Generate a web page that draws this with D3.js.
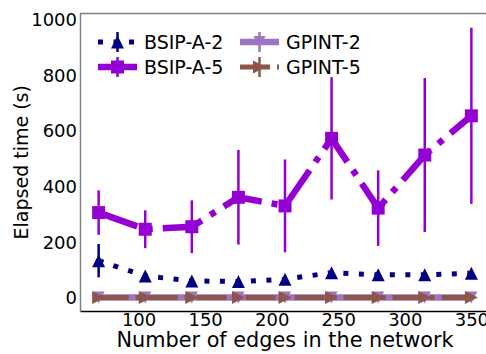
<!DOCTYPE html>
<html>
<head>
<meta charset="utf-8">
<script src="https://cdn.jsdelivr.net/npm/d3@7"></script>
<style>
  body { margin: 0; background: #fff; }
  svg text { font-family: "DejaVu Sans", Verdana, sans-serif !important; }
</style>
</head>
<body>
<div id="chart"></div>
<script>
// Number of edges (x values)
const edges = [70, 105, 140, 175, 210, 245, 280, 315, 350];

// Mean elapsed time and error per series
const bsipA2 = [134, 79, 61, 59, 67, 91, 83, 83, 89];
const bsipA2Err = [60, 10, 8, 8, 8, 10, 8, 8, 8];
const bsipA5 = [307, 247, 256, 362, 331, 574, 323, 514, 655];
const bsipA5Err = [80, 68, 95, 170, 167, 220, 136, 277, 317];
const gpint2 = [2, 2, 2, 2, 2, 2, 2, 2, 2];
const gpint2Err = [1, 1, 1, 1, 1, 1, 1, 1, 1];
const gpint5 = [2, 2, 2, 2, 2, 2, 2, 2, 2];
const gpint5Err = [1, 1, 1, 1, 1, 1, 1, 1, 1];

const xTicks = [100, 150, 200, 250, 300, 350];
const yTicks = [0, 200, 400, 600, 800, 1000];

const WIDTH = 486, HEIGHT = 354;
const plot = { left: 80, top: 13.5, right: 490, bottom: 311 };

const svg = d3.select("#chart").append("svg")
    .attr("width", WIDTH)
    .attr("height", HEIGHT);

const x = d3.scaleLinear().domain([56, 364]).range([plot.left, plot.right]);
const y = d3.scaleLinear().domain([-47, 1023]).range([plot.bottom, plot.top]);

// marker shapes (matplotlib-like)
const markers = {
  triUp: r => `M0,${-r}L${r},${r}L${-r},${r}Z`,
  triDown: r => `M0,${r}L${r},${-r}L${-r},${-r}Z`,
  triRight: r => `M${r},0L${-r},${r}L${-r},${-r}Z`,
  square: r => `M${-r},${-r}H${r}V${r}H${-r}Z`
};

const series = [
  { name: "BSIP-A-2", values: bsipA2, err: bsipA2Err, color: "#000080", width: 5, dash: "5,10.5", marker: "triUp", r: 6.5, errW: 2.5, opacity: 1 },
  { name: "BSIP-A-5", values: bsipA5, err: bsipA5Err, color: "#9400d3", width: 6.5, dash: "41,10,6,10", marker: "square", r: 6.5, errW: 2.5, opacity: 1 },
  { name: "GPINT-2", values: gpint2, err: gpint2Err, color: "#9467bd", width: 6.5, dash: null, marker: "triDown", r: 6, errW: 2.5, opacity: 0.9 },
  { name: "GPINT-5", values: gpint5, err: gpint5Err, color: "#8c564b", width: 5, dash: "30,7,5,7", marker: "triRight", r: 6.5, errW: 2.5, opacity: 1 }
];

const line = d3.line().x(d => x(d[0])).y(d => y(d[1]));

// Axes spines
const axisX = svg.append("g")
    .attr("transform", `translate(0,${plot.bottom})`)
    .call(d3.axisBottom(x).tickValues(xTicks).tickSize(0).tickPadding(2).tickFormat(d3.format("d")));
axisX.select(".domain").attr("stroke", "#000").attr("stroke-width", 1.5);
axisX.selectAll("text").attr("font-size", 18).attr("fill", "#000");

const axisY = svg.append("g")
    .attr("transform", `translate(${plot.left},0)`)
    .call(d3.axisLeft(y).tickValues(yTicks).tickSize(0).tickPadding(3).tickFormat(d3.format("d")));
axisY.select(".domain").attr("stroke", "#808080").attr("stroke-width", 1.5);
axisY.selectAll("text").attr("font-size", 18).attr("fill", "#000");

svg.append("line")
    .attr("x1", plot.left).attr("x2", plot.right)
    .attr("y1", plot.top).attr("y2", plot.top)
    .attr("stroke", "#808080").attr("stroke-width", 1.5);

// Series: line, error bars, markers
series.forEach(s => {
  const g = svg.append("g").attr("opacity", s.opacity);
  const pts = edges.map((e, i) => [e, s.values[i], s.err[i]]);
  g.append("path")
      .datum(pts)
      .attr("d", line)
      .attr("fill", "none")
      .attr("stroke", s.color)
      .attr("stroke-width", s.width)
      .attr("stroke-dasharray", s.dash);
  g.selectAll(".err").data(pts).enter().append("line")
      .attr("x1", d => x(d[0])).attr("x2", d => x(d[0]))
      .attr("y1", d => y(d[1] - d[2])).attr("y2", d => y(d[1] + d[2]))
      .attr("stroke", s.color).attr("stroke-width", s.errW);
  g.selectAll(".mk").data(pts).enter().append("path")
      .attr("transform", d => `translate(${x(d[0])},${y(d[1])})`)
      .attr("d", markers[s.marker](s.r))
      .attr("fill", s.color);
});

// Legend (two columns)
const legendPos = [
  { lx: 98, ly: 42 }, { lx: 98, ly: 67 },
  { lx: 240, ly: 42 }, { lx: 240, ly: 67 }
];
series.forEach((s, i) => {
  const p = legendPos[i];
  const g = svg.append("g").attr("transform", `translate(${p.lx},${p.ly})`).attr("opacity", s.opacity);
  g.append("line")
      .attr("x1", 0).attr("x2", 39).attr("y1", 0).attr("y2", 0)
      .attr("stroke", s.color).attr("stroke-width", s.width)
      .attr("stroke-dasharray", s.dash);
  g.append("line")
      .attr("x1", 19.5).attr("x2", 19.5).attr("y1", -10).attr("y2", 10)
      .attr("stroke", s.color).attr("stroke-width", s.errW);
  g.append("path")
      .attr("transform", "translate(19.5,0)")
      .attr("d", markers[s.marker](s.r))
      .attr("fill", s.color);
  svg.append("text")
      .attr("x", p.lx + 46).attr("y", p.ly)
      .attr("dy", "0.35em")
      .attr("font-size", 19)
      .attr("fill", "#000")
      .text(s.name);
});

// Axis titles
svg.append("text")
    .attr("x", 285)
    .attr("y", 347)
    .attr("text-anchor", "middle")
    .attr("font-size", 20.8)
    .text("Number of edges in the network");

svg.append("text")
    .attr("transform", `translate(28,${(plot.top + plot.bottom) / 2}) rotate(-90)`)
    .attr("text-anchor", "middle")
    .attr("font-size", 19)
    .text("Elapsed time (s)");
</script>
</body>
</html>
